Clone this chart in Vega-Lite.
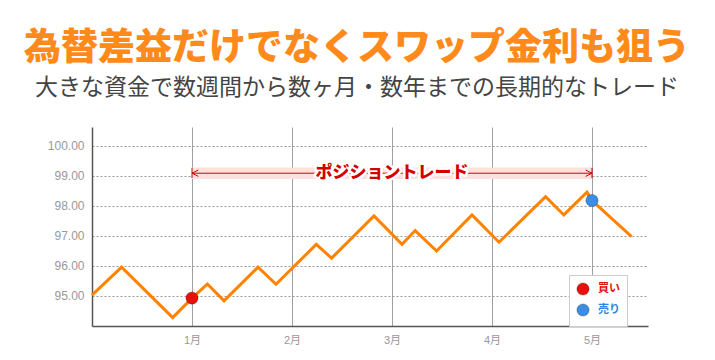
{
  "$schema": "https://vega.github.io/schema/vega-lite/v6.json",
  "width": 556,
  "height": 199,
  "autosize": {"type": "none"},
  "padding": {"left": 92, "top": 127, "right": 67, "bottom": 34},
  "background": "white",
  "title": {
    "text": "為替差益だけでなくスワップ金利も狙う",
    "subtitle": "大きな資金で数週間から数ヶ月・数年までの長期的なトレード",
    "anchor": "middle",
    "frame": "group",
    "dx": -13,
    "offset": 26,
    "font": "Noto Sans CJK JP",
    "fontSize": 37,
    "fontWeight": 900,
    "color": "#ff8a1c",
    "subtitleFont": "Noto Sans CJK JP",
    "subtitleFontSize": 23,
    "subtitleFontWeight": 400,
    "subtitleColor": "#444444",
    "subtitlePadding": 9
  },
  "datasets": {
    "price": [
      {"m": 0.0, "v": 95.03},
      {"m": 0.296, "v": 95.96},
      {"m": 0.807, "v": 94.28},
      {"m": 1.0, "v": 94.93},
      {"m": 1.154, "v": 95.4},
      {"m": 1.32, "v": 94.84},
      {"m": 1.66, "v": 95.96},
      {"m": 1.84, "v": 95.39},
      {"m": 2.243, "v": 96.72},
      {"m": 2.396, "v": 96.26},
      {"m": 2.82, "v": 97.67},
      {"m": 3.1, "v": 96.72},
      {"m": 3.232, "v": 97.18},
      {"m": 3.446, "v": 96.5},
      {"m": 3.8, "v": 97.7},
      {"m": 4.07, "v": 96.79},
      {"m": 4.536, "v": 98.31},
      {"m": 4.718, "v": 97.7},
      {"m": 4.95, "v": 98.46},
      {"m": 5.0, "v": 98.18},
      {"m": 5.396, "v": 96.98}
    ],
    "trades": [
      {"m": 1.0, "v": 94.93, "type": "買い"},
      {"m": 5.0, "v": 98.18, "type": "売り"}
    ],
    "span": [
      {"m1": 1, "m2": 5, "mid": 3, "y": 99.09, "lo": 98.9, "hi": 99.28, "label": "ポジショントレード"}
    ],
    "heads": [
      {"m": 1, "y": 99.09, "tlo": 98.93, "thi": 99.27, "side": "L"},
      {"m": 5, "y": 99.09, "tlo": 98.93, "thi": 99.27, "side": "R"}
    ]
  },
  "encoding": {
    "x": {"type": "quantitative", "scale": {"domain": [0, 5.56], "nice": false, "zero": false},
      "axis": {"values": [1, 2, 3, 4, 5], "labelExpr": "datum.value + '月'", "grid": true, "gridColor": "#a0a0a0", "gridWidth": 1, "ticks": false, "domainColor": "#555555", "domainWidth": 1.5, "labelColor": "#999999", "labelFontSize": 11, "labelPadding": 8, "labelFont": "Liberation Sans, Noto Sans CJK JP", "labelOverlap": false, "title": null}},
    "y": {"type": "quantitative", "scale": {"domain": [94, 100.63], "nice": false, "zero": false},
      "axis": {"values": [95, 96, 97, 98, 99, 100], "tickCount": 6, "format": ".2f", "grid": true, "gridColor": "#999999", "gridDash": [2, 2], "gridWidth": 1, "ticks": false, "domainColor": "#555555", "domainWidth": 1.5, "labelColor": "#999999", "labelFontSize": 12, "labelPadding": 8, "labelFont": "Liberation Sans", "labelOverlap": false, "title": null}}
  },
  "layer": [
    {
      "data": {"name": "span"},
      "mark": {"type": "rect", "fill": "#fde0e0"},
      "encoding": {
        "x": {"field": "m1"},
        "x2": {"field": "m2"},
        "y": {"field": "lo"},
        "y2": {"field": "hi"}
      }
    },
    {
      "data": {"name": "span"},
      "mark": {"type": "rule", "color": "#d40000", "strokeWidth": 1},
      "encoding": {
        "x": {"field": "m1"},
        "x2": {"field": "m2"},
        "y": {"field": "y"}
      }
    },
    {
      "data": {"name": "heads"},
      "mark": {"type": "rule", "color": "#d40000", "strokeWidth": 1},
      "encoding": {
        "x": {"field": "m"},
        "y": {"field": "tlo"},
        "y2": {"field": "thi"}
      }
    },
    {
      "data": {"name": "heads"},
      "mark": {"type": "point", "filled": false, "stroke": "#d40000", "strokeWidth": 1, "size": 40, "opacity": 1},
      "encoding": {
        "x": {"field": "m"},
        "y": {"field": "y"},
        "shape": {"field": "side", "type": "nominal", "scale": {"domain": ["L", "R"], "range": ["M2,-1L0,0L2,1", "M-2,-1L0,0L-2,1"]}, "legend": null}
      }
    },
    {
      "data": {"name": "span"},
      "mark": {"type": "text", "font": "Noto Sans CJK JP", "fontSize": 17, "fontWeight": 900, "stroke": "white", "strokeWidth": 5, "strokeJoin": "round", "fill": "white"},
      "encoding": {
        "x": {"field": "mid"},
        "y": {"field": "y"},
        "text": {"field": "label"}
      }
    },
    {
      "data": {"name": "span"},
      "mark": {"type": "text", "font": "Noto Sans CJK JP", "fontSize": 17, "fontWeight": 900, "fill": "#d40000"},
      "encoding": {
        "x": {"field": "mid"},
        "y": {"field": "y"},
        "text": {"field": "label"}
      }
    },
    {
      "data": {"name": "price"},
      "mark": {"type": "line", "color": "#ff8200", "strokeWidth": 3},
      "encoding": {
        "x": {"field": "m"},
        "y": {"field": "v"}
      }
    },
    {
      "data": {"name": "trades"},
      "mark": {"type": "point", "filled": true, "size": 150, "opacity": 1, "stroke": "#000000", "strokeOpacity": 0.25, "strokeWidth": 1},
      "encoding": {
        "x": {"field": "m"},
        "y": {"field": "v"},
        "color": {"field": "type", "type": "nominal", "scale": {"domain": ["買い", "売り"], "range": ["#e8100a", "#3a8ee6"]},
          "legend": {"title": null, "orient": "none", "legendX": 477, "legendY": 148, "padding": 7, "strokeColor": "#cccccc", "fillColor": "white", "symbolSize": 150, "symbolType": "circle", "symbolStrokeColor": "rgba(0,0,0,0.25)", "symbolStrokeWidth": 1, "labelFont": "Noto Sans CJK JP", "labelFontSize": 11, "labelFontWeight": "bold", "rowPadding": 3, "labelOffset": 8,
            "labelColor": {"expr": "datum.label == '買い' ? '#e01010' : '#2f86e0'"}}}
      }
    }
  ],
  "config": {"view": {"stroke": null}}
}
